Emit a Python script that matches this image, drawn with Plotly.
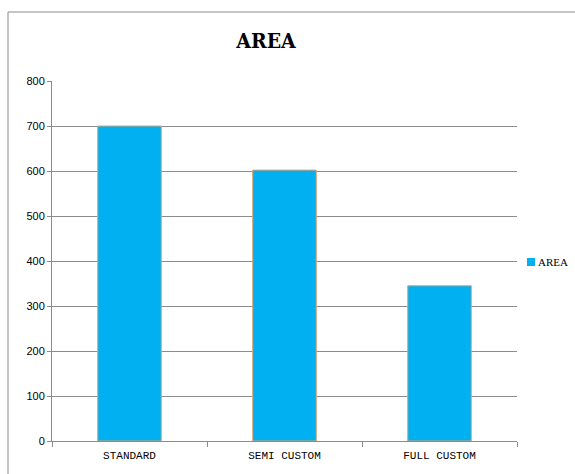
import plotly.graph_objects as go

# Chart data
categories = ["STANDARD", "SEMI CUSTOM", "FULL CUSTOM"]
area_values = [700, 602, 345]
y_ticks = [0, 100, 200, 300, 400, 500, 600, 700, 800]
series_name = "AREA"

W, H = 575, 474
ML, MR, MT, MB = 52, 58, 81, 33
plot_w = W - ML - MR
plot_h = H - MT - MB


def px_x(p):
    return (p - ML) / plot_w


def px_y(p):
    return 1 - (p - MT) / plot_h


fill = "#00B0F0"
edge = "#E0A070"
grid = "#8C8C8C"

fig = go.Figure(
    go.Bar(
        x=categories,
        y=area_values,
        name=series_name,
        marker=dict(color=fill, line=dict(color=edge, width=1)),
        showlegend=False,
    )
)

fig.update_layout(
    width=W,
    height=H,
    margin=dict(l=ML, r=MR, t=MT, b=MB),
    paper_bgcolor="white",
    plot_bgcolor="white",
    bargap=0.59,
    title=dict(
        text="<b>AREA</b>",
        x=px_x(266),
        xref="paper",
        xanchor="center",
        y=1 - 41 / H,
        yref="container",
        yanchor="middle",
        font=dict(family="DejaVu Serif Condensed, Liberation Serif, serif", size=21, color="black"),
    ),
    xaxis=dict(
        type="category",
        showline=True,
        linecolor=grid,
        linewidth=1,
        ticks="outside",
        tickson="boundaries",
        ticklen=5,
        tickcolor=grid,
        showgrid=False,
        ticklabelstandoff=4,
        tickfont=dict(family="Liberation Mono, monospace", size=11, color="black"),
    ),
    yaxis=dict(
        range=[0, 800],
        tickvals=y_ticks,
        showline=True,
        linecolor=grid,
        linewidth=1,
        ticks="outside",
        ticklen=4,
        tickcolor=grid,
        showgrid=True,
        gridcolor=grid,
        gridwidth=1,
        zeroline=False,
        tickfont=dict(family="Liberation Sans, Arial, sans-serif", size=11, color="black"),
    ),
    shapes=[
        # chart frame
        dict(
            type="rect",
            xref="paper",
            yref="paper",
            x0=px_x(8),
            x1=1.3,
            y0=-0.3,
            y1=px_y(12),
            line=dict(color="#8C8C8C", width=1),
            layer="below",
        ),
        # legend key
        dict(
            type="rect",
            xref="paper",
            yref="paper",
            x0=px_x(527),
            x1=px_x(535),
            y0=px_y(266),
            y1=px_y(258),
            fillcolor=fill,
            line=dict(color=fill, width=0),
        ),
    ],
    annotations=[
        dict(
            text=series_name,
            xref="paper",
            yref="paper",
            x=px_x(536),
            y=px_y(262),
            xanchor="left",
            yanchor="middle",
            showarrow=False,
            font=dict(family="Liberation Serif, serif", size=11, color="black"),
        )
    ],
)

fig.write_html("out.html")
